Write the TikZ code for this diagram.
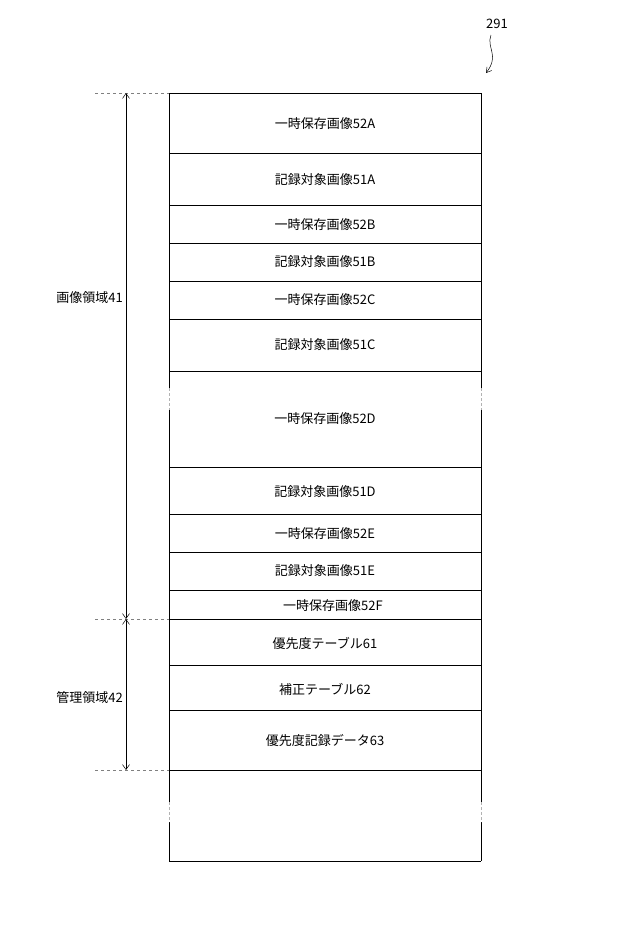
\documentclass[tikz,border=0pt]{standalone}
\usepackage{fontspec}
\setmainfont{Noto Sans CJK JP}
\usetikzlibrary{arrows.meta}
\begin{document}
\begin{tikzpicture}[x=1pt,y=-1pt,
  lbl/.style={font=\fontsize{13}{15}\selectfont},
  dim/.style={{Straight Barb[length=5pt,width=7pt]}-{Straight Barb[length=5pt,width=7pt]}, line width=0.5pt},
  guide/.style={dashed, line width=0.4pt, gray},
  brk/.style={densely dashed, line width=0.4pt, gray!60}]
\useasboundingbox (0,0) rectangle (640,938);
\draw[line width=0.6pt] (169,93) -- (481,93);
\draw[line width=0.6pt] (169,861) -- (481,861);
\foreach \x in {169,481}{
  \draw[line width=0.6pt] (\x,93) -- (\x,388) (\x,410) -- (\x,802) (\x,822) -- (\x,861);
  \draw[brk] (\x,388) -- (\x,410) (\x,802) -- (\x,822);}
\foreach \y in {153,205,243,281,319,371,467,514,552,590,619,665,710,770}
  \draw[line width=0.5pt] (169,\y) -- (481,\y);
\node[lbl] (a) at (325,124) {一時保存画像52A};
\node[lbl] (b) at (325,180) {記録対象画像51A};
\node[lbl] (c) at (325,225) {一時保存画像52B};
\node[lbl] (d) at (325,262) {記録対象画像51B};
\node[lbl] (e) at (325,300) {一時保存画像52C};
\node[lbl] (f) at (325,345) {記録対象画像51C};
\node[lbl] (g) at (325,419) {一時保存画像52D};
\node[lbl] (h) at (325,492) {記録対象画像51D};
\node[lbl] (i) at (325,534) {一時保存画像52E};
\node[lbl] (j) at (325,571) {記録対象画像51E};
\node[lbl] (k) at (333,606) {一時保存画像52F};
\node[lbl] (l) at (325,643) {優先度テーブル61};
\node[lbl] (m) at (325,689) {補正テーブル62};
\node[lbl] (n) at (325,741) {優先度記録データ63};
\coordinate (t1) at (126,93);
\coordinate (t2) at (126,619);
\coordinate (t3) at (126,770);
\draw[guide] (95,93) -- (169,93);
\draw[guide] (95,619) -- (169,619);
\draw[guide] (95,770) -- (169,770);
\draw[dim] (t1) -- (t2);
\draw[dim] (t2) -- (t3);
\node[lbl, anchor=east, fill=white, inner sep=1pt] (r1) at (124,298) {画像領域41};
\node[lbl, anchor=east, fill=white, inner sep=1pt] (r2) at (124,698) {管理領域42};
\node[lbl] (ref) at (497,24) {291};
\coordinate (s1) at (491,35);
\coordinate (s2) at (486,73);
\draw[-{Straight Barb[length=5pt,width=6pt]}, line width=0.5pt] (s1) .. controls (486,48) and (500,55) .. (s2);
\end{tikzpicture}
\end{document}
